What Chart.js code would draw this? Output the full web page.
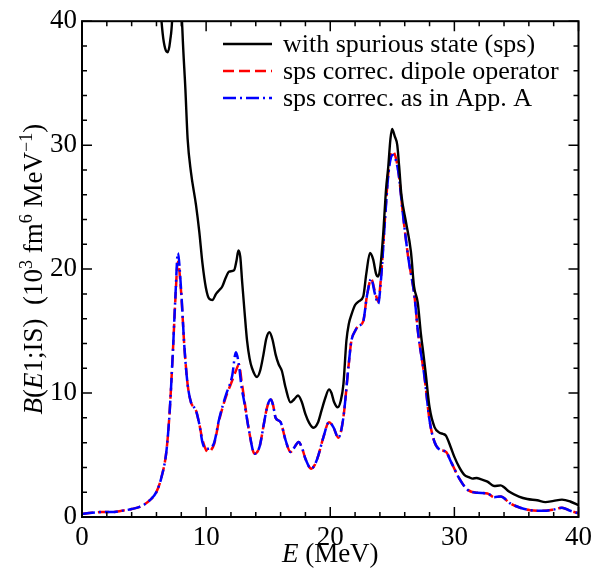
<!DOCTYPE html>
<html><head><meta charset="utf-8">
<script src="https://cdn.jsdelivr.net/npm/chart.js@4"></script>
<style>html,body{margin:0;padding:0;background:#fff;overflow:hidden}</style>
</head><body>
<canvas id="c" width="597" height="569"></canvas>
<script>
// ---- data ----
const blackE = [5.6,6.0,6.3,6.5,6.7,6.9,7.1,7.3,7.6,7.8,8.0,8.1,8.33,8.51,8.78,9.18,9.45,9.7,9.98,10.25,10.5,10.8,11.05,11.3,11.58,11.85,12.25,12.45,12.6,12.75,12.9,13.1,13.3,13.5,13.7,14.1,14.35,14.6,14.85,15.1,15.35,15.6,15.85,16.1,16.4,16.8,17.1,17.4,17.7,18.0,18.3,18.65,19.0,19.3,19.6,19.9,20.1,20.3,20.6,20.85,21.06,21.3,21.5,21.7,22.0,22.3,22.66,22.9,23.2,23.45,23.7,23.86,24.05,24.26,24.5,24.66,24.85,24.98,25.2,25.4,25.55,25.73,26.1,26.5,26.75,27.05,27.3,27.5,27.7,28.0,28.4,28.8,29.1,29.33,29.7,30.0,30.4,30.8,31.2,31.46,31.8,32.1,32.67,33.2,33.73,34.0,34.4,35.2,35.87,36.67,37.33,38.0,38.67,39.33,40.0];
const blackB = [60,48,41.5,39.0,37.8,37.5,38.4,41,55,58,42,39,34.5,30.5,27.8,25.2,23.0,20.5,18.5,17.6,17.5,18.0,18.3,18.6,19.3,19.8,19.9,20.7,21.5,21.0,19.0,16.5,14.2,12.8,12.0,11.3,11.8,13.0,14.4,14.9,14.3,13.1,12.3,11.8,10.45,9.25,9.5,9.8,9.3,8.3,7.6,7.2,7.6,8.6,9.6,10.3,10.0,9.3,8.85,9.4,10.7,14.2,15.6,16.3,17.1,17.4,17.8,19.6,21.3,20.8,19.6,19.4,20.3,22.75,26.5,28.1,30.5,31.3,30.7,30.0,28.3,26.0,23.8,21.4,18.6,17.3,14.8,13.2,11.5,8.85,7.25,6.8,6.7,6.55,5.65,4.85,4.0,3.4,3.2,3.1,3.15,3.05,2.85,2.5,2.55,2.4,2.05,1.65,1.45,1.35,1.2,1.3,1.4,1.25,0.95];

const dashedE = [0,0.8,1.6,2.4,3.2,4.0,4.8,5.47,6.0,6.4,6.8,7.05,7.31,7.53,7.72,7.98,8.25,8.51,8.78,9.18,9.45,9.71,10.0,10.2,10.4,10.65,11.05,11.58,12.1,12.4,12.65,12.85,13.05,13.45,13.9,14.3,14.65,14.9,15.2,15.4,15.6,16.0,16.4,16.8,17.1,17.45,17.75,18.0,18.47,18.75,19.05,19.45,19.9,20.25,20.65,21.06,21.46,21.7,22.0,22.25,22.66,22.95,23.3,23.6,23.86,24.1,24.4,24.7,25.0,25.46,25.86,26.26,26.8,27.06,27.6,28.0,28.4,28.8,29.33,29.73,30.4,31.06,31.87,32.67,33.2,33.73,34.5,35.3,36.1,37.2,38.0,38.67,39.33,40];
const redB = [0.24,0.35,0.4,0.4,0.5,0.64,0.88,1.36,2.03,3.2,5.3,8.3,13.1,17.7,20.6,18.2,13.7,10.7,9.25,8.6,7.5,6.2,5.4,5.24,5.4,5.9,7.8,9.65,11.0,11.8,12.3,11.0,9.65,7.0,5.1,5.65,7.5,8.8,9.5,9.0,8.0,7.65,6.2,5.25,5.6,6.05,5.5,4.7,3.9,4.2,5.0,6.45,7.65,7.25,6.4,8.05,12.05,14.2,15.0,15.4,15.8,17.8,19.2,18.2,17.4,19.5,24.0,28.0,29.5,28.1,24.4,21.1,17.7,15.0,11.25,7.8,6.05,5.45,5.25,4.45,3.1,2.2,1.95,1.9,1.6,1.65,1.1,0.75,0.55,0.5,0.6,0.75,0.5,0.3];
const blueB = [0.24,0.35,0.4,0.4,0.5,0.64,0.88,1.36,2.03,3.2,5.3,8.3,13.1,17.9,21.3,18.4,13.7,10.7,9.25,8.6,7.5,6.0,5.5,5.5,5.6,6.0,7.9,9.8,11.4,13.3,12.2,10.5,9.4,7.0,5.1,5.65,7.5,8.8,9.5,9.0,8.0,7.65,6.2,5.25,5.6,6.05,5.5,4.7,3.9,4.2,5.0,6.45,7.65,7.25,6.4,8.05,12.05,14.2,15.0,15.4,15.8,17.8,19.2,18.0,17.2,19.3,23.8,27.8,29.2,28.0,24.4,21.1,17.7,15.0,11.25,7.8,6.05,5.45,5.25,4.45,3.1,2.2,1.95,1.9,1.6,1.65,1.1,0.75,0.55,0.5,0.6,0.75,0.5,0.3];

const majorTicks = [0,10,20,30,40];
const minorTicks = [2,4,6,8,12,14,16,18,22,24,26,28,32,34,36,38];
const seriesLabels = ['with spurious state (sps)','sps correc. dipole operator','sps correc. as in App. A'];

const SERIF = '"Liberation Serif","DejaVu Serif",serif';

function pts(xs, ys){ return xs.map((x,i)=>({x:x,y:ys[i]})); }

const framePlugin = {
  id:'frame',
  afterDatasetsDraw(chart){
    const {ctx, chartArea:a, scales} = chart;
    ctx.save();
    ctx.strokeStyle = '#000';
    ctx.lineWidth = 2;
    ctx.strokeRect(a.left, a.top, a.right-a.left, a.bottom-a.top);
    ctx.lineWidth = 1.5;
    ctx.beginPath();
    const all = majorTicks.map(v=>[v,10]).concat(minorTicks.map(v=>[v,5]));
    all.forEach(([v,len])=>{
      const px = scales.x.getPixelForValue(v);
      ctx.moveTo(px, a.bottom); ctx.lineTo(px, a.bottom-len);
      ctx.moveTo(px, a.top); ctx.lineTo(px, a.top+len);
      const py = scales.y.getPixelForValue(v);
      ctx.moveTo(a.left, py); ctx.lineTo(a.left+len, py);
      ctx.moveTo(a.right, py); ctx.lineTo(a.right-len, py);
    });
    ctx.stroke();
    ctx.restore();
  },
  afterDraw(chart){
    const {ctx, chartArea:a} = chart;
    ctx.save();
    ctx.fillStyle = '#000';
    // legend
    const ds = chart.data.datasets;
    const rows = [44, 71, 98];
    ds.forEach((d,i)=>{
      ctx.save();
      ctx.strokeStyle = d.borderColor;
      ctx.lineWidth = d.borderWidth;
      ctx.setLineDash(d.borderDash || []);
      ctx.beginPath();
      ctx.moveTo(223, rows[i]); ctx.lineTo(272, rows[i]);
      ctx.stroke();
      ctx.restore();
      ctx.font = '26px ' + SERIF;
      ctx.textBaseline = 'middle';
      ctx.fillText(d.label, 283, rows[i]+1);
    });
    // x title
    ctx.textBaseline = 'alphabetic';
    const xParts = [{t:'E',it:true},{t:' (MeV)'}];
    drawParts(ctx, xParts, (a.left+a.right)/2, 562, 0);
    // y title
    const yParts = [{t:'B',it:true},{t:'('},{t:'E',it:true},{t:'1;IS)  (10'},{t:'3',sup:true},{t:' fm'},{t:'6',sup:true},{t:' MeV'},{t:'\u22121',sup:true},{t:')'}];
    drawParts(ctx, yParts, 42, (a.top+a.bottom)/2, -Math.PI/2);
    ctx.restore();
  }
};

function fontFor(p){ return (p.it?'italic ':'') + (p.sup?'18px ':'27px ') + SERIF; }
function drawParts(ctx, parts, cx, cy, rot){
  let total = 0;
  parts.forEach(p=>{ ctx.font = fontFor(p); p.w = ctx.measureText(p.t).width; total += p.w; });
  ctx.save();
  ctx.translate(cx, cy);
  ctx.rotate(rot);
  let x = -total/2;
  parts.forEach(p=>{
    ctx.font = fontFor(p);
    ctx.fillText(p.t, x, p.sup ? -10 : 0);
    x += p.w;
  });
  ctx.restore();
}

new Chart(document.getElementById('c'), {
  type:'line',
  data:{ datasets:[
    {label:seriesLabels[0], data:pts(blackE,blackB), borderColor:'#000', borderWidth:2.4, order:0},
    {label:seriesLabels[1], data:pts(dashedE,redB), borderColor:'#ff0000', borderWidth:2.5, borderDash:[11,5], order:2},
    {label:seriesLabels[2], data:pts(dashedE,blueB), borderColor:'#0000ff', borderWidth:2.5, borderDash:[13,4,2,4], order:1}
  ]},
  options:{
    responsive:false, animation:false, devicePixelRatio:1,
    layout:{padding:{left:0,top:18,right:15,bottom:0}},
    elements:{point:{radius:0}, line:{cubicInterpolationMode:'monotone', fill:false}},
    plugins:{legend:{display:false}, tooltip:{enabled:false}},
    scales:{
      x:{type:'linear', min:0, max:40,
         afterBuildTicks:s=>{ s.ticks = majorTicks.map(v=>({value:v})); },
         afterFit:s=>{ s.height = 52; },
         grid:{display:false, drawTicks:false}, border:{display:false},
         ticks:{padding:5, color:'#000', font:{family:SERIF, size:27}, maxRotation:0}},
      y:{type:'linear', min:0, max:40,
         afterBuildTicks:s=>{ s.ticks = majorTicks.map(v=>({value:v})); },
         afterFit:s=>{ s.width = 82; },
         grid:{display:false, drawTicks:false}, border:{display:false},
         ticks:{padding:5, color:'#000', font:{family:SERIF, size:27}}}
    }
  },
  plugins:[framePlugin]
});
</script>
</body></html>
